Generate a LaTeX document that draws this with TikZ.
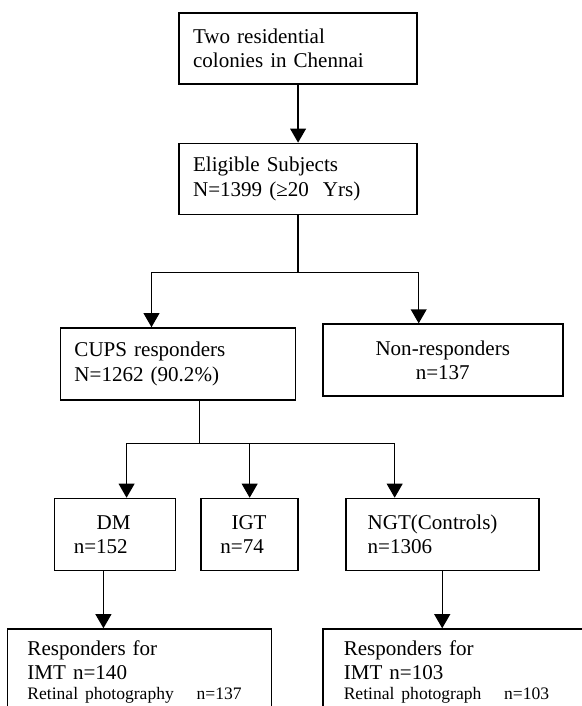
\documentclass[tikz,border=0pt]{standalone}
\usepackage{fontspec}
\setmainfont{Liberation Serif}
\usetikzlibrary{arrows.meta,positioning}

\begin{document}
\begin{tikzpicture}[
  every node/.style={align=left,font=\fontsize{12}{13.8}\selectfont},
  box/.style={rectangle,draw,line width=0.9pt,inner xsep=11pt,minimum height=41pt,fill=white},
  line/.style={line width=0.8pt},
  arr/.style={line width=0.8pt,-{Triangle[length=8pt,width=9pt]}}
]
\useasboundingbox (0,0) rectangle (331.7pt,-402.4pt);
\clip (0,0) rectangle (331.7pt,-402.4pt);

\node[box,inner xsep=8pt,text width=119.7pt,minimum height=40.5pt] (colonies) at (169.9pt,-27.6pt) {Two residential\\colonies in Chennai};
\node[box,inner xsep=8pt,text width=119.7pt,minimum height=40.5pt,below=33pt of colonies] (eligible) {Eligible Subjects\\N=1399 (≥20\ \ Yrs)};
\node[box,inner xsep=8pt,text width=118pt,below left=63.8pt and -67.3pt of eligible] (cups) {CUPS responders\\N=1262 (90.2\%)};
\node[box,text width=114.8pt,align=center,below right=61.6pt and -54.7pt of eligible] (nonresp) {Non-responders\\n=137};
\node[box,text width=47pt,below right=55.3pt and -3.4pt of cups.south west] (dm) {\hspace*{13pt}DM\\n=152};
\node[box,text width=33.3pt,right=13.7pt of dm] (igt) {\hspace*{6.3pt}IGT\\n=74};
\node[box,inner xsep=12.5pt,text width=85pt,right=26.2pt of igt] (ngt) {NGT(Controls)\\n=1306};
\node[box,inner xsep=11.4pt,inner ysep=6.6pt,text width=127.7pt,minimum height=0pt,below right=32.5pt and -26.8pt of dm.south west] (imtdm) {Responders for\\IMT n=140\\[-2.4pt]{\fontsize{10}{11.4}\selectfont Retinal photography\hspace{13pt}n=137}\\[6pt]};
\node[box,inner xsep=12pt,inner ysep=6.6pt,text width=146pt,minimum height=0pt,below right=32.5pt and -13.1pt of ngt.south west] (imtngt) {Responders for\\IMT n=103\\[-2.4pt]{\fontsize{10}{11.4}\selectfont Retinal photograph\hspace{13pt}n=103}\\[6pt]};

\draw[arr] (colonies) -- (eligible);
\draw[line] (eligible.south) -- ++(0,-32.5pt) coordinate (fork1);
\draw[arr] (fork1) -| ([xshift=-15.1pt]cups.north);
\draw[arr] (fork1) -| ([xshift=-13.7pt]nonresp.north);
\draw[line] ([xshift=12.3pt]cups.south) -- ++(0,-24.5pt) coordinate (fork2);
\draw[arr] (fork2) -| ([xshift=6.6pt]dm.north);
\draw[arr] (fork2) -| (igt.north);
\draw[arr] (fork2) -| ([xshift=-27.1pt]ngt.north);
\draw[arr] ([xshift=-6.6pt]dm.south) -- ([xshift=-6.6pt]dm.south |- imtdm.north);
\draw[arr] (ngt.south) -- (ngt.south |- imtngt.north);
\end{tikzpicture}
\end{document}
